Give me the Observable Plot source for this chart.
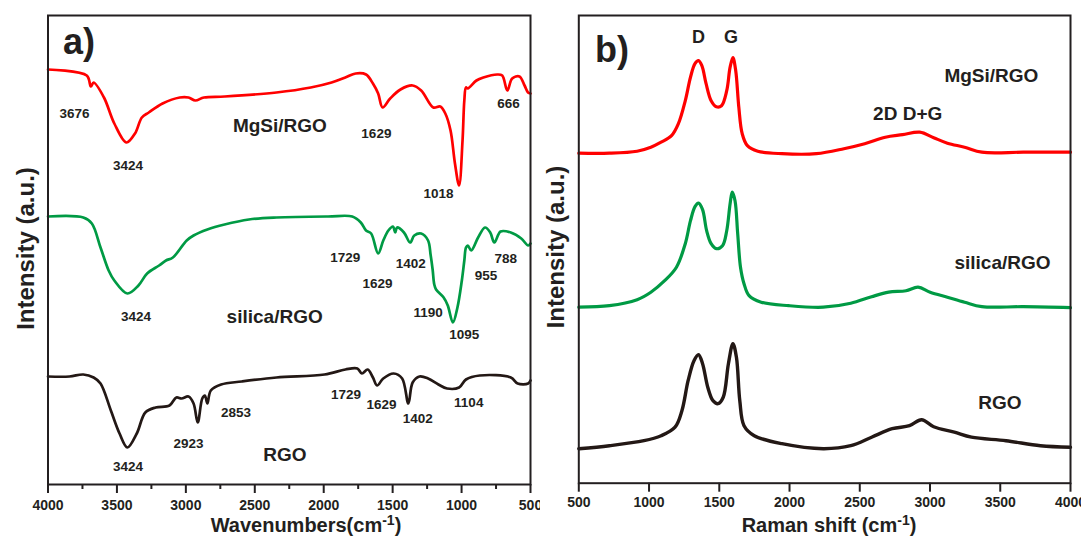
<!DOCTYPE html>
<html><head><meta charset="utf-8">
<script src="https://cdn.jsdelivr.net/npm/d3@7"></script>
<script src="https://cdn.jsdelivr.net/npm/@observablehq/plot@0.6"></script>
<style>
html,body{margin:0;padding:0;background:#fff;}
#wrap{display:flex;width:1081px;height:536px;overflow:hidden;}
#wrap svg{flex:none;overflow:visible;}
#wrap svg text{font-weight:bold;}
</style></head><body><div id="wrap"></div>
<script>
// ---------- DATA (a) FTIR: [wavenumber, intensity a.u.] ----------
const ftirMgSi = [[4000,83.0],[3719,81.8],[3689,79.6],[3669,80.4],[3594,77.4],[3519,72.2],[3431,68.4],[3369,70.2],[3319,73.4],[3269,74.4],[3169,76.2],[3044,77.4],[2981,77.4],[2931,76.8],[2869,77.4],[2719,77.6],[2343,78.4],[2094,79.4],[1943,80.4],[1843,81.4],[1768,82.2],[1693,82.0],[1643,80.2],[1605,78.2],[1573,75.4],[1518,77.2],[1443,79.0],[1355,79.8],[1293,78.8],[1205,75.4],[1155,75.6],[1118,74.2],[1080,70.8],[1048,64.2],[1018,59.8],[993,68.8],[980,76.8],[968,79.4],[955,79.2],[892,80.8],[842,81.4],[742,82.0],[705,81.8],[668,78.8],[633,81.2],[580,81.6],[543,79.8],[518,78.4],[500,78.2]];
const ftirSilica = [[4000,53.6],[3744,53.4],[3682,52.2],[3619,47.4],[3560,42.8],[3519,40.8],[3424,38.2],[3344,39.8],[3281,42.2],[3194,43.8],[3144,44.8],[3094,45.4],[2994,48.8],[2944,49.8],[2844,51.0],[2719,52.0],[2543,53.0],[2343,53.4],[1968,53.6],[1793,53.6],[1731,52.4],[1693,50.8],[1656,50.2],[1605,46.2],[1568,48.8],[1531,50.8],[1498,51.6],[1481,50.4],[1468,51.4],[1418,50.4],[1373,48.4],[1343,49.8],[1293,50.2],[1243,48.8],[1225,46.0],[1210,43.0],[1198,40.0],[1185,39.0],[1130,37.4],[1100,35.8],[1063,32.4],[1030,35.4],[998,40.8],[980,44.8],[968,47.4],[955,47.8],[930,46.8],[880,49.4],[830,51.4],[792,50.4],[762,48.4],[717,50.6],[643,50.4],[567,49.2],[517,47.8],[500,48.2]];
const ftirRGO = [[4000,21.6],[3844,21.6],[3744,22.0],[3669,21.4],[3619,20.2],[3544,14.8],[3481,10.2],[3424,7.4],[3356,10.2],[3294,14.4],[3219,15.4],[3119,15.8],[3069,17.4],[3031,17.2],[2981,17.6],[2944,16.2],[2914,12.4],[2881,17.2],[2862,17.8],[2844,16.2],[2819,18.8],[2744,20.0],[2594,20.6],[2343,21.4],[1994,22.0],[1843,23.0],[1756,23.2],[1723,22.2],[1681,23.0],[1643,21.4],[1613,19.8],[1568,21.2],[1493,22.2],[1431,21.2],[1386,16.2],[1355,20.4],[1305,21.6],[1243,21.2],[1168,20.0],[1105,19.2],[1018,19.4],[968,21.0],[868,21.8],[643,21.4],[593,20.2],[517,20.2],[500,20.8]];
const ftirTicks = [4000,3500,3000,2500,2000,1500,1000,500];
const ftirMinorTicks = [3750,3250,2750,2250,1750,1250,750];
const ftirPeakLabels = [[3808,74.2,"3676"],[3419,63.8,"3424"],[1618,70.2,"1629"],[1168,58.2,"1018"],[659,76.2,"666"],
  [1843,45.4,"1729"],[1368,44.2,"1402"],[680,45.2,"788"],[1610,40.2,"1629"],[823,41.8,"955"],[3362,33.6,"3424"],[1243,34.3,"1190"],[980,30.0,"1095"],
  [2981,8.2,"2923"],[2636,14.3,"2853"],[3419,3.5,"3424"],[1838,18.0,"1729"],[1581,16.0,"1629"],[1318,13.2,"1402"],[948,16.3,"1104"]];
const ftirSampleLabels = [[2318,71.8,"MgSi/RGO"],[2356,33.6,"silica/RGO"],[2281,6.0,"RGO"]];

// ---------- DATA (b) Raman: [shift, intensity a.u.] ----------
const ramanMgSi = [[500,66.0],[718,66.0],[915,66.4],[1013,67.2],[1086,68.2],[1160,69.5],[1209,71.9],[1258,76.5],[1295,81.2],[1327,83.9],[1352,84.5],[1376,83.5],[1406,79.9],[1442,76.5],[1479,75.3],[1516,75.5],[1553,78.5],[1577,83.2],[1597,85.1],[1617,82.5],[1639,75.2],[1663,69.9],[1700,67.5],[1774,66.4],[1946,65.9],[2191,65.9],[2387,66.9],[2535,67.9],[2682,69.2],[2805,69.7],[2927,70.2],[3026,69.1],[3124,68.0],[3246,67.2],[3369,66.2],[3664,66.2],[4000,66.2]];
const ramanSilica = [[500,35.2],[718,35.5],[915,36.7],[1013,38.2],[1111,40.5],[1195,43.2],[1258,47.9],[1295,52.5],[1327,55.3],[1352,56.0],[1381,54.7],[1410,50.5],[1442,47.9],[1479,46.9],[1523,47.5],[1553,50.5],[1577,55.9],[1592,58.2],[1612,56.5],[1631,49.9],[1651,43.2],[1676,39.9],[1712,37.5],[1798,36.2],[1995,35.5],[2240,35.2],[2436,36.0],[2584,37.3],[2706,38.2],[2829,38.5],[2915,39.2],[3001,38.2],[3124,37.2],[3246,36.2],[3369,35.3],[3664,35.3],[4000,35.1]];
const ramanRGO = [[500,6.9],[718,7.5],[964,8.5],[1086,9.5],[1185,11.2],[1234,14.5],[1278,20.5],[1320,24.5],[1352,25.7],[1381,23.9],[1418,19.2],[1455,16.5],[1491,15.9],[1528,17.2],[1565,23.9],[1597,27.9],[1622,25.2],[1646,16.5],[1676,11.5],[1749,9.5],[1946,7.9],[2240,6.9],[2436,7.5],[2584,9.2],[2731,10.9],[2854,11.5],[2940,12.7],[3026,11.3],[3173,10.2],[3295,9.2],[3541,8.5],[3786,7.5],[4000,7.2]];
const ramanTicks = [500,1000,1500,2000,2500,3000,3500,4000];
const ramanBandLabels = [[1352,89.2,"D"],[1583,89.2,"G"]];
const ramanSampleLabels = [[3437,81.4,"MgSi/RGO"],[2841,73.9,"2D D+G"],[3516,44.1,"silica/RGO"],[3498,16.0,"RGO"]];

// ---------- STYLE ----------
const FONT = '"Liberation Sans", Arial, Helvetica, sans-serif';
const INK = "#231f20";
const RED = "#ff0000", GREEN = "#009a44", BLACK = "#231815";
const svgStyle = {fontFamily: FONT, fontWeight: "bold", fontSize: "14px", color: INK, background: "white"};
const fmt = d => String(d);
const X = d => d[0], Y = d => d[1], T = d => d[2];

const plotA = Plot.plot({
  width: 540, height: 536,
  marginLeft: 47.5, marginRight: 10, marginTop: 15, marginBottom: 52,
  style: svgStyle,
  x: {domain: [4000, 500]},
  y: {domain: [0, 93.8], axis: null},
  marks: [
    Plot.axisX(ftirTicks, {tickSize: 9, tickPadding: 7, strokeWidth: 2, tickFormat: fmt, label: null, fontSize: 14, fontWeight: "bold", fill: INK}),
    Plot.axisX(ftirMinorTicks, {tickSize: 5, strokeWidth: 2, tickFormat: () => "", label: null}),
    Plot.line(ftirMgSi, {x: X, y: Y, stroke: RED, strokeWidth: 2.7, curve: "catmull-rom"}),
    Plot.line(ftirSilica, {x: X, y: Y, stroke: GREEN, strokeWidth: 2.7, curve: "catmull-rom"}),
    Plot.line(ftirRGO, {x: X, y: Y, stroke: BLACK, strokeWidth: 2.7, curve: "catmull-rom"}),
    Plot.text(ftirPeakLabels, {x: X, y: Y, text: T, fontSize: 13.5, fontWeight: "bold", fill: INK, lineAnchor: "middle"}),
    Plot.text(ftirSampleLabels, {x: X, y: Y, text: T, fontSize: 19, fontWeight: "bold", fill: INK, lineAnchor: "middle"}),
    Plot.frame({stroke: INK, strokeWidth: 2})
  ]
});

const plotB = Plot.plot({
  width: 541, height: 536,
  marginLeft: 38.3, marginRight: 11, marginTop: 15, marginBottom: 53.3,
  style: svgStyle,
  x: {domain: [500, 4000]},
  y: {domain: [0, 93.54], axis: null},
  marks: [
    Plot.axisX(ramanTicks, {tickSize: 9, tickPadding: 5, strokeWidth: 2, tickFormat: fmt, label: null, fontSize: 14, fontWeight: "bold", fill: INK}),
    Plot.line(ramanMgSi, {x: X, y: Y, stroke: RED, strokeWidth: 3.2, curve: "catmull-rom"}),
    Plot.line(ramanSilica, {x: X, y: Y, stroke: GREEN, strokeWidth: 3.2, curve: "catmull-rom"}),
    Plot.line(ramanRGO, {x: X, y: Y, stroke: BLACK, strokeWidth: 3.4, curve: "catmull-rom"}),
    Plot.text(ramanBandLabels, {x: X, y: Y, text: T, fontSize: 18, fontWeight: "bold", fill: INK, lineAnchor: "middle"}),
    Plot.text(ramanSampleLabels, {x: X, y: Y, text: T, fontSize: 19, fontWeight: "bold", fill: INK, lineAnchor: "middle"}),
    Plot.frame({stroke: INK, strokeWidth: 2})
  ]
});

function decorate(svg, o) {
  const s = d3.select(svg);
  s.append("text").attr("x", o.letterX).attr("y", o.letterY).attr("text-anchor", "start")
    .attr("font-size", 36).attr("font-weight", "bold").attr("fill", INK).text(o.letter);
  const t = s.append("text").attr("x", o.titleX).attr("y", 531.5).attr("text-anchor", "middle")
    .attr("font-size", 20).attr("font-weight", "bold").attr("fill", INK);
  t.append("tspan").text(o.title);
  t.append("tspan").attr("font-size", 14).attr("dy", -7).text("-1");
  t.append("tspan").attr("dy", 7).text(")");
  s.append("text").attr("transform", `translate(${o.yX},${o.yY}) rotate(-90)`).attr("text-anchor", "middle")
    .attr("font-size", 24).attr("font-weight", "bold").attr("fill", INK).text("Intensity (a.u.)");
}
decorate(plotA, {letter: "a)", letterX: 63, letterY: 54, title: "Wavenumbers(cm", titleX: 306, yX: 33.5, yY: 248.5});
decorate(plotB, {letter: "b)", letterX: 55, letterY: 62, title: "Raman shift (cm", titleX: 289, yX: 24, yY: 247});

const wrap = document.getElementById("wrap");
wrap.appendChild(plotA);
wrap.appendChild(plotB);
</script></body></html>
